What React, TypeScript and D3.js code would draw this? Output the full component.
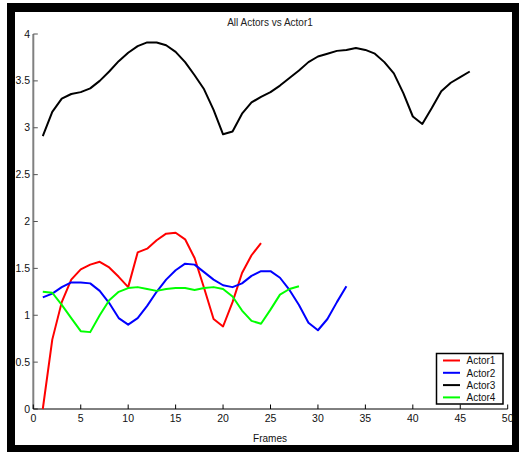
import React from "react";
import * as d3 from "d3";

const actor1 = [0.0, 0.74, 1.14, 1.38, 1.49, 1.54, 1.57, 1.51, 1.41, 1.30, 1.67, 1.71, 1.80, 1.87, 1.88, 1.81, 1.61, 1.29, 0.96, 0.88, 1.14, 1.45, 1.64, 1.77];
const actor2 = [1.19, 1.23, 1.30, 1.35, 1.35, 1.34, 1.26, 1.13, 0.97, 0.90, 0.97, 1.10, 1.25, 1.38, 1.48, 1.55, 1.54, 1.46, 1.38, 1.32, 1.30, 1.34, 1.42, 1.47, 1.47, 1.40, 1.27, 1.11, 0.92, 0.84, 0.96, 1.14, 1.31];
const actor3 = [2.91, 3.17, 3.31, 3.36, 3.38, 3.42, 3.50, 3.60, 3.71, 3.80, 3.87, 3.91, 3.91, 3.88, 3.81, 3.70, 3.56, 3.41, 3.19, 2.93, 2.96, 3.15, 3.27, 3.33, 3.38, 3.45, 3.53, 3.61, 3.70, 3.76, 3.79, 3.82, 3.83, 3.85, 3.83, 3.79, 3.70, 3.58, 3.37, 3.12, 3.04, 3.21, 3.39, 3.48, 3.54, 3.60];
const actor4 = [1.25, 1.24, 1.11, 0.97, 0.83, 0.82, 1.00, 1.16, 1.25, 1.29, 1.30, 1.28, 1.26, 1.28, 1.29, 1.29, 1.27, 1.29, 1.30, 1.28, 1.20, 1.05, 0.94, 0.91, 1.06, 1.22, 1.28, 1.31];

const seriesNames = ["Actor1", "Actor2", "Actor3", "Actor4"];
const seriesColors = ["#ff0000", "#0000ff", "#000000", "#00ff00"];
const xTicks = [0, 5, 10, 15, 20, 25, 30, 35, 40, 45, 50];
const yTicks = [0, 0.5, 1, 1.5, 2, 2.5, 3, 3.5, 4];
const title = "All Actors vs Actor1";
const xLabel = "Frames";

export default function App() {
  const W = 519, H = 452;
  const x = d3.scaleLinear().domain([0, 50]).range([33.3, 507.7]);
  const y = d3.scaleLinear().domain([0, 4]).range([409, 34]);
  const allSeries = [actor1, actor2, actor3, actor4];
  const line = d3
    .line<number>()
    .x((_, i) => x(i + 1))
    .y((d) => y(d));
  const font = "'Liberation Sans', Arial, Helvetica, sans-serif";
  return (
    <svg
      width={W}
      height={H}
      style={{ position: "absolute", left: 0, top: 0, display: "block" }}
      fontFamily={font}
    >
      <rect x={0} y={0} width={W} height={H} fill="#fff" />
      <rect x={7} y={3} width={512} height={449} fill="#000" />
      <rect x={15} y={12} width={497} height={433} fill="#fff" />
      <text x={270} y={25.5} fontSize={10} textAnchor="middle" fill="#222">
        {title}
      </text>
      {/* y axis */}
      <line x1={x(0)} x2={x(0)} y1={y(4)} y2={y(0)} stroke="#808080" strokeWidth={2} />
      {yTicks.map((t) => (
        <g key={"y" + t}>
          <line x1={x(0)} x2={x(0) + 4.5} y1={y(t)} y2={y(t)} stroke="#555" strokeWidth={1} />
          <text x={30} y={y(t) + 3.5} fontSize={10.5} textAnchor="end" fill="#111">
            {String(t)}
          </text>
        </g>
      ))}
      {/* x axis */}
      <line x1={x(0)} x2={x(50)} y1={y(0)} y2={y(0)} stroke="#000" strokeWidth={1} />
      {xTicks.map((t) => (
        <g key={"x" + t}>
          <line x1={x(t)} x2={x(t)} y1={y(0)} y2={y(0) - 4.5} stroke="#000" strokeWidth={1} />
          <text x={x(t)} y={422} fontSize={10.5} textAnchor="middle" fill="#111">
            {String(t)}
          </text>
        </g>
      ))}
      <text x={270} y={442} fontSize={10} textAnchor="middle" fill="#111">
        {xLabel}
      </text>
      {allSeries.map((s, i) => (
        <path
          key={seriesNames[i]}
          d={line(s) || ""}
          fill="none"
          stroke={seriesColors[i]}
          strokeWidth={2}
          strokeLinejoin="round"
        />
      ))}
      {/* legend */}
      <rect x={436.5} y={353.5} width={66.5} height={50.5} fill="#fff" stroke="#000" strokeWidth={1.5} />
      {seriesNames.map((n, i) => {
        const cy = 360.5 + i * 12.3;
        return (
          <g key={"l" + n}>
            <line x1={443} x2={460} y1={cy} y2={cy} stroke={seriesColors[i]} strokeWidth={2} />
            <text x={466.5} y={cy + 3.7} fontSize={10} fill="#111">
              {n}
            </text>
          </g>
        );
      })}
    </svg>
  );
}
